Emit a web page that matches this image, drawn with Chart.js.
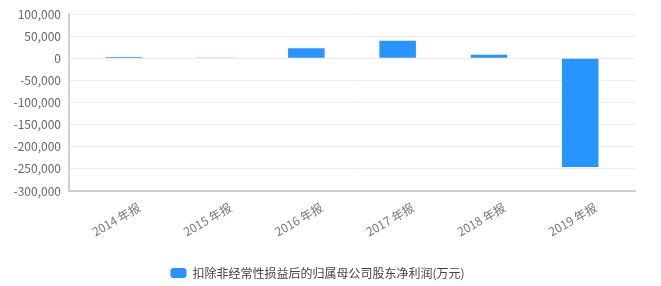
<!DOCTYPE html>
<html>
<head>
<meta charset="utf-8">
<script src="https://cdn.jsdelivr.net/npm/chart.js@4.4.0/dist/chart.umd.min.js"></script>
<style>
  html, body { margin: 0; padding: 0; background: #fff; }
  #box { width: 661px; height: 286px; }
</style>
</head>
<body>
<div id="box"><canvas id="grafico"></canvas></div>
<script>
const anos = ["2014 年报", "2015 年报", "2016 年报", "2017 年报", "2018 年报", "2019 年报"]
const lucro = [3000, 500, 22500, 39500, 8000, -246000]
const serie = "扣除非经常性损益后的归属母公司股东净利润(万元)"
const yTicks = [100000, 50000, 0, -50000, -100000, -150000, -200000, -250000, -300000]

const fonte = '"Noto Sans CJK SC", "Noto Sans", sans-serif'
const azul = "#2894ff"

new Chart(document.getElementById("grafico"), {
  type: 'bar',
  data: {
    datasets: [{
      label: serie,
      data: lucro.map((v, i) => ({x: i, y: v})),
      backgroundColor: azul,
      borderWidth: 0,
      barPercentage: 0.4,
      categoryPercentage: 1
    }]
  },
  options: {
    responsive: true,
    maintainAspectRatio: false,
    animation: false,
    layout: { padding: { top: 14, right: 26, left: 0, bottom: -3 } },
    plugins: {
      tooltip: { enabled: false },
      legend: {
        position: 'bottom',
        labels: {
          boxWidth: 16,
          boxHeight: 10,
          padding: 5,
          useBorderRadius: true,
          borderRadius: 3,
          color: "#444",
          font: { family: fonte, size: 12, lineHeight: 1 }
        }
      }
    },
    scales: {
      x: {
        type: 'linear',
        offset: false,
        min: -0.6,
        max: 5.6,
        afterBuildTicks: (scale) => { scale.ticks = anos.map((a, i) => ({value: i + 0.17})) },
        ticks: {
          callback: (v) => anos[Math.round(v - 0.17)],
          minRotation: 30,
          maxRotation: 30,
          color: "#777",
          padding: 9,
          font: { family: fonte, size: 12 }
        },
        grid: { display: false, drawTicks: false, offset: false },
        border: { display: true, color: "#cfcfcf", width: 2 },
        afterFit: (scale) => { scale.height = 71 }
      },
      y: {
        min: -300000,
        max: 100000,
        afterBuildTicks: (scale) => { scale.ticks = yTicks.map(v => ({value: v})) },
        ticks: {
          color: "#666",
          padding: 8,
          font: { family: fonte, size: 12 },
          callback: (v) => v.toLocaleString('en-US')
        },
        grid: { color: "#ececec", drawTicks: false },
        border: { display: true, color: "#cfcfcf", width: 2 },
        afterFit: (scale) => {
          scale.width = 69
          scale.paddingTop = 0
          scale.paddingBottom = 0
        }
      }
    }
  }
})
</script>
</body>
</html>
